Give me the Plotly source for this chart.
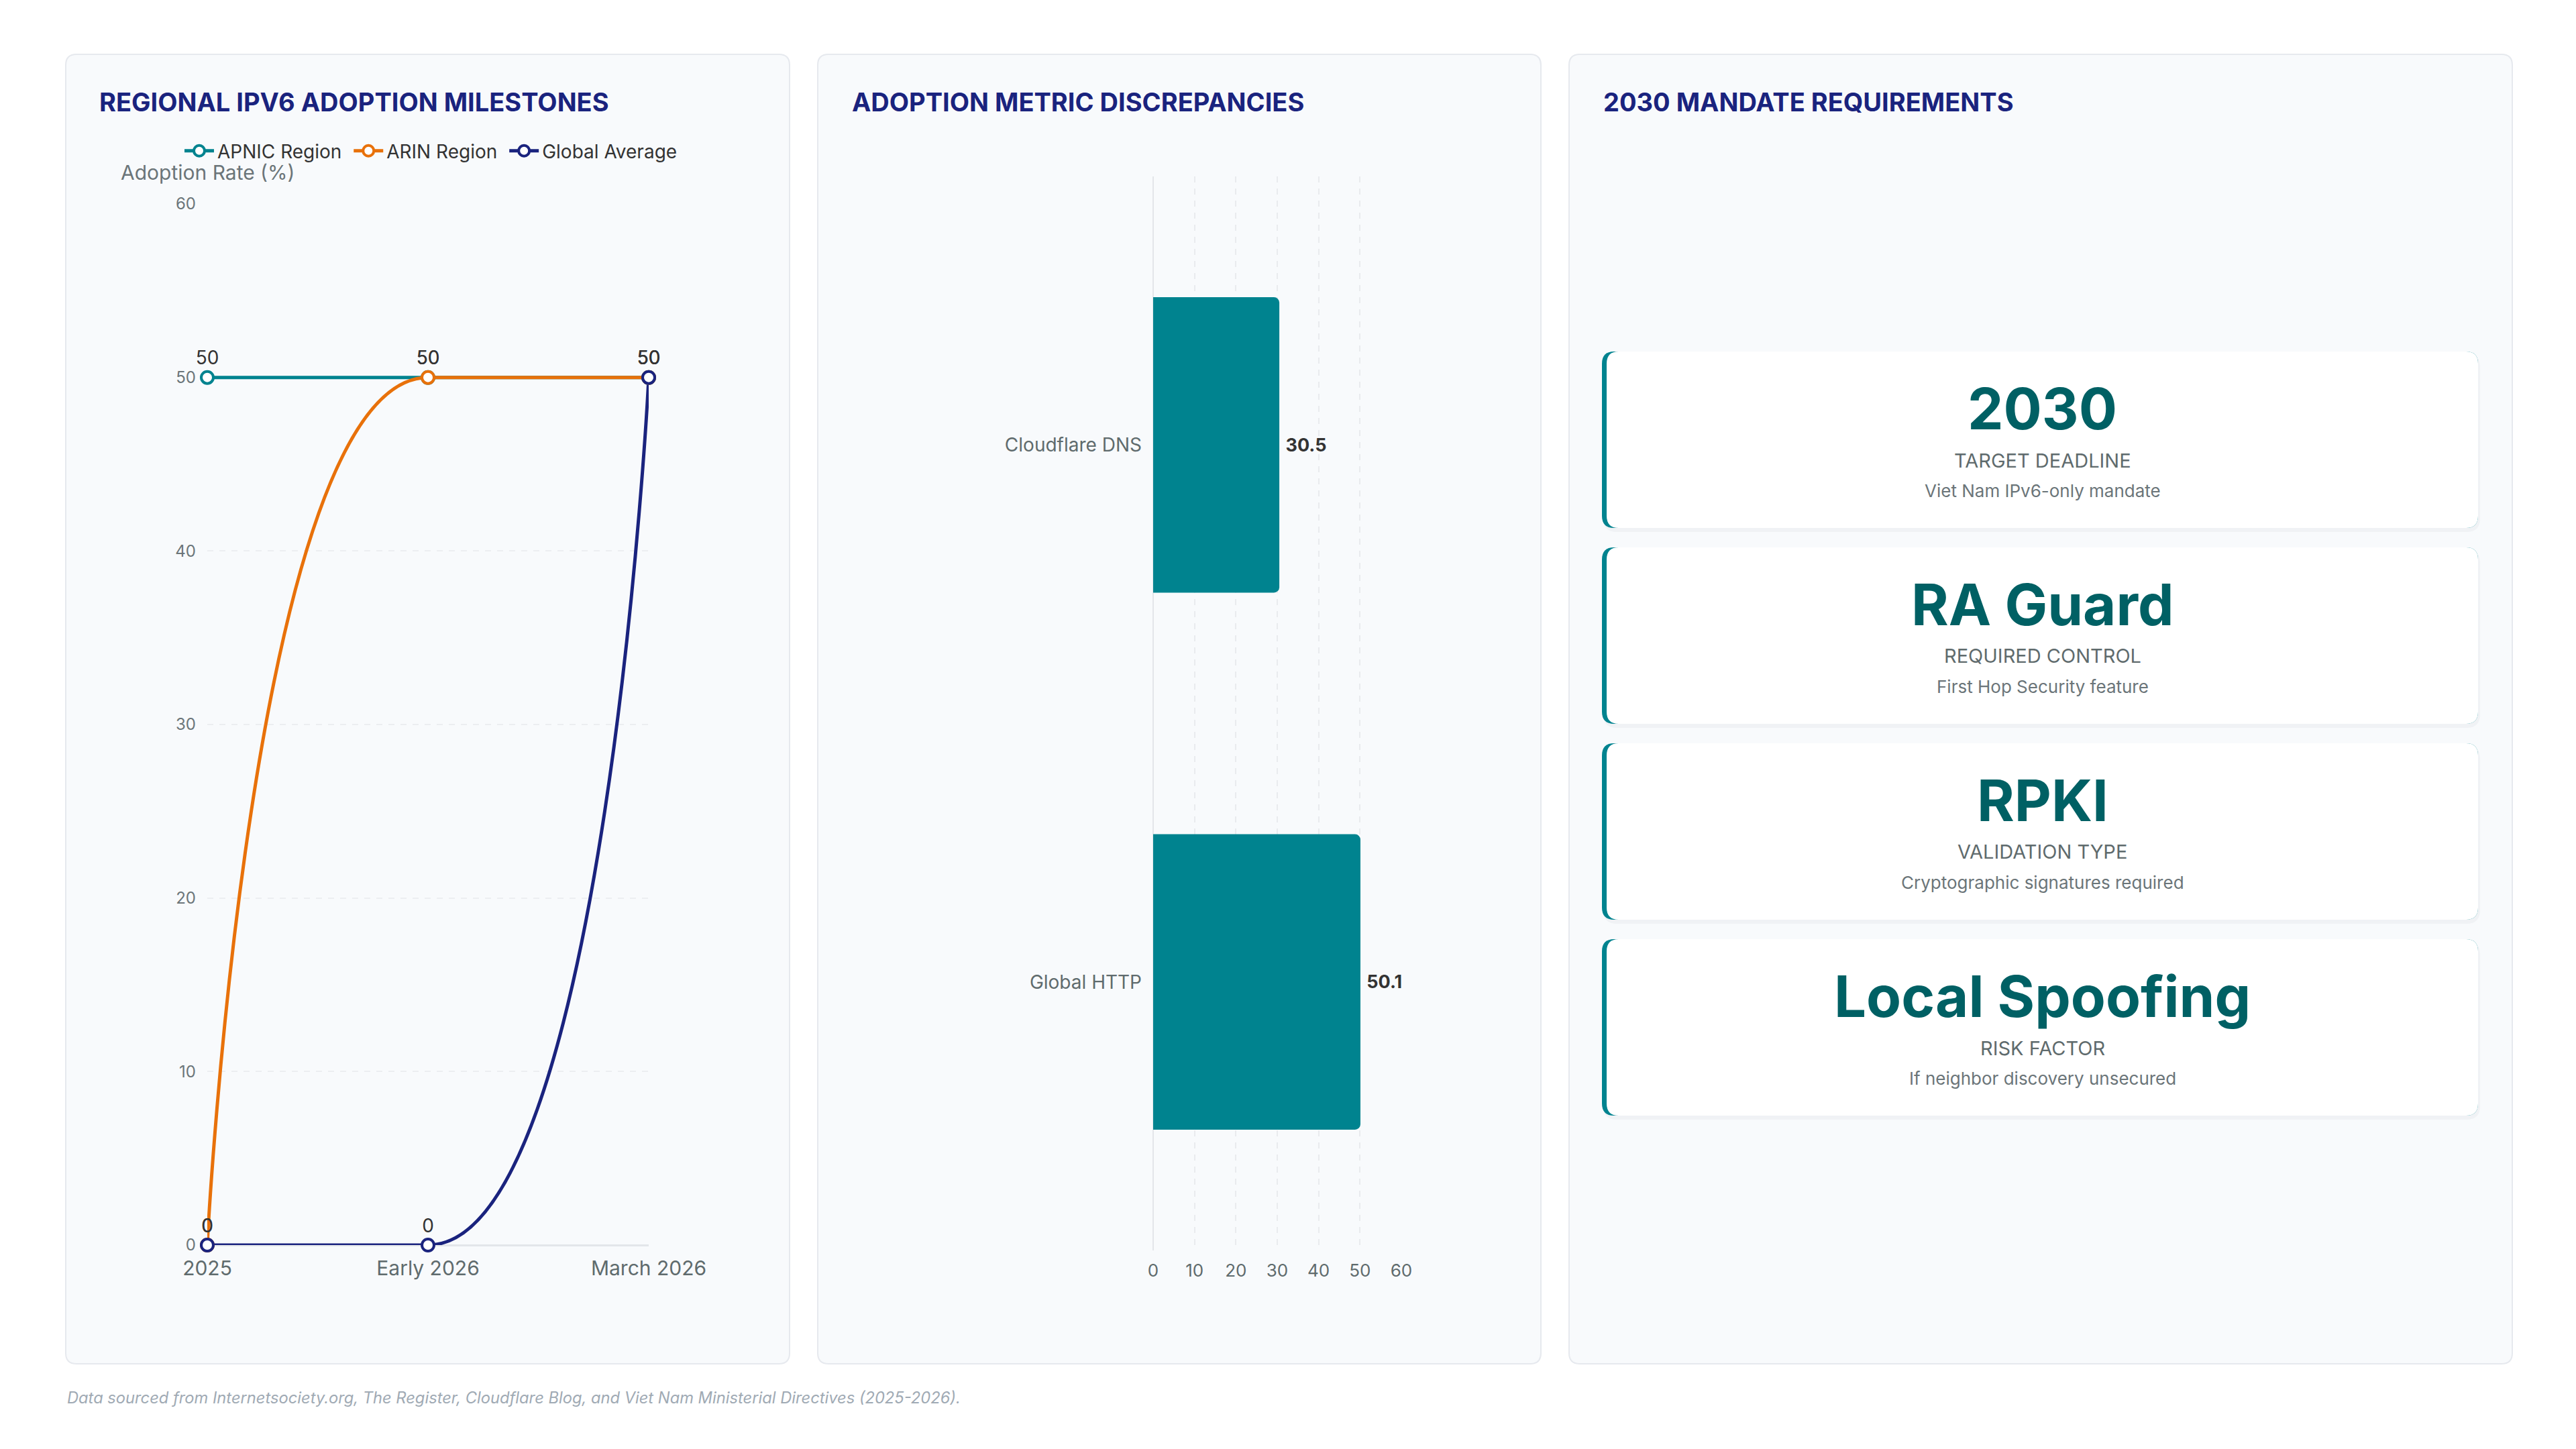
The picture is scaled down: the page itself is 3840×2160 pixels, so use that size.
import plotly.graph_objects as go

# ---------------- data ----------------
periods = ["2025", "Early 2026", "March 2026"]
apnic = [50, 50, 50]
arin = [0, 50, 50]
global_avg = [0, 0, 50]
series_names = ["APNIC Region", "ARIN Region", "Global Average"]
series_colors = ["#00838f", "#e8710a", "#1a237e"]

metrics = ["Cloudflare DNS", "Global HTTP"]
metric_values = [30.5, 50.1]

card_values = ["2030", "RA Guard", "RPKI", "Local Spoofing"]
card_labels = ["TARGET DEADLINE", "REQUIRED CONTROL", "VALIDATION TYPE", "RISK FACTOR"]
card_notes = ["Viet Nam IPv6-only mandate", "First Hop Security feature",
              "Cryptographic signatures required", "If neighbor discovery unsecured"]

titles = ["REGIONAL IPV6 ADOPTION MILESTONES", "ADOPTION METRIC DISCREPANCIES",
          "2030 MANDATE REQUIREMENTS"]
footer = ("Data sourced from Internetsociety.org, The Register, Cloudflare Blog, "
          "and Viet Nam Ministerial Directives (2025-2026).")

# ---------------- layout constants (pixels) ----------------
W, H = 3840, 2160
FONT = "Inter, Roboto, sans-serif"


def px(x):
    return x / W


def py(y):
    return 1 - y / H


L_X0, L_X1 = 309, 967      # left plot area
L_Y0, L_Y1 = 304, 1856     # top (60) / bottom (0)
L_YMAX = 60
M_X0, M_X1 = 1719, 2089
M_Y0, M_Y1 = 263, 1864

panels = [(98, 1177), (1219, 2297), (2339, 3745)]
PANEL_TOP, PANEL_BOT = 81, 2033
title_x = [146, 1268, 2388]


def rrect(x0, y0, x1, y1, r):
    pts = [("M", [(x0 + r, y0)]), ("L", [(x1 - r, y0)]), ("Q", [(x1, y0), (x1, y0 + r)]),
           ("L", [(x1, y1 - r)]), ("Q", [(x1, y1), (x1 - r, y1)]), ("L", [(x0 + r, y1)]),
           ("Q", [(x0, y1), (x0, y1 - r)]), ("L", [(x0, y0 + r)]), ("Q", [(x0, y0), (x0 + r, y0)])]
    s = ""
    for cmd, ps in pts:
        s += cmd + " " + " ".join(f"{px(a):.6f},{py(b):.6f}" for a, b in ps) + " "
    return s + "Z"


# ECharts-style smooth line (smooth=0.5), computed in pixel space
def smooth_path(xs, ys, smooth=0.5):
    sx = (L_X1 - L_X0) / (len(xs) - 1)
    sy = (L_Y1 - L_Y0) / L_YMAX
    P = [(x * sx, -y * sy) for x, y in zip(xs, ys)]

    def to_data(p):
        return (p[0] / sx, -p[1] / sy)

    n = len(P)
    cp0 = P[0]
    segs = []
    for i in range(1, n):
        x, y = P[i]
        prevX, prevY = P[i - 1]
        if i == n - 1:
            cp1 = (x, y)
            nxt = None
        else:
            nextX, nextY = P[i + 1]
            vx, vy = nextX - prevX, nextY - prevY
            lp = ((x - prevX) ** 2 + (y - prevY) ** 2) ** 0.5
            ln = ((nextX - x) ** 2 + (nextY - y) ** 2) ** 0.5
            r = ln / (ln + lp)
            ncx = x + vx * smooth * r
            ncy = y + vy * smooth * r
            ncx = max(min(ncx, max(nextX, x)), min(nextX, x))
            ncy = max(min(ncy, max(nextY, y)), min(nextY, y))
            vx, vy = ncx - x, ncy - y
            c1x = x - vx * lp / ln
            c1y = y - vy * lp / ln
            c1x = max(min(c1x, max(prevX, x)), min(prevX, x))
            c1y = max(min(c1y, max(prevY, y)), min(prevY, y))
            vx, vy = x - c1x, y - c1y
            ncx = x + vx * ln / lp
            ncy = y + vy * ln / lp
            cp1 = (c1x, c1y)
            nxt = (ncx, ncy)
        segs.append((cp0, cp1, (x, y)))
        cp0 = nxt
    d0 = to_data(P[0])
    s = f"M {d0[0]:.6f},{d0[1]:.6f}"
    for a, b, c in segs:
        a, b, c = to_data(a), to_data(b), to_data(c)
        s += f" C {a[0]:.6f},{a[1]:.6f} {b[0]:.6f},{b[1]:.6f} {c[0]:.6f},{c[1]:.6f}"
    return s


fig = go.Figure()
shapes = []
annotations = []

# panels
for x0, x1 in panels:
    shapes.append(dict(type="path", xref="paper", yref="paper", layer="below",
                       path=rrect(x0, PANEL_TOP, x1, PANEL_BOT, 16),
                       fillcolor="#f8fafc", line=dict(color="#e6e9ee", width=2)))

# ---------------- left line chart ----------------
idx = list(range(len(periods)))
all_series = [apnic, arin, global_avg]
for name, vals, col in zip(series_names, all_series, series_colors):
    shapes.append(dict(type="path", xref="x", yref="y", layer="between",
                       path=smooth_path(idx, vals),
                       line=dict(color=col, width=5)))
for name, vals, col in zip(series_names, all_series, series_colors):
    fig.add_trace(go.Scatter(
        x=idx, y=vals, mode="markers+text", name=name, showlegend=False,
        text=[str(v) for v in vals], textposition="top center",
        textfont=dict(size=28, color="#333333", family=FONT),
        marker=dict(symbol="circle", size=18, color="white", line=dict(color=col, width=4)),
        cliponaxis=False, xaxis="x", yaxis="y"))
for name, col in zip(series_names, series_colors):
    fig.add_trace(go.Scatter(
        x=[None], y=[None], mode="lines+markers", name=name + "\u00a0", showlegend=True,
        line=dict(color=col, width=5),
        marker=dict(symbol="circle", size=17, color="white", line=dict(color=col, width=4)),
        xaxis="x", yaxis="y"))

# ---------------- middle bar chart ----------------
fig.add_trace(go.Bar(
    x=metric_values, y=metrics, orientation="h", showlegend=False,
    marker=dict(color="#00838f", cornerradius=8, line=dict(width=0)),
    text=[f"\u00a0{v}" for v in metric_values], textposition="outside",
    textfont=dict(size=27, color="#333333", family=FONT, weight="bold"),
    cliponaxis=False, width=0.55, xaxis="x2", yaxis="y2"))

# ---------------- right cards ----------------
CARD_X0, CARD_X1 = 2388, 3694
CARD_TOP, CARD_H, CARD_GAP = 524, 263, 29
cx = (CARD_X0 + 7 + CARD_X1) / 2
for i, (v, lab, note) in enumerate(zip(card_values, card_labels, card_notes)):
    t = CARD_TOP + i * (CARD_H + CARD_GAP)
    b = t + CARD_H
    shapes.append(dict(type="path", xref="paper", yref="paper", layer="below",
                       path=rrect(CARD_X0 + 2, t + 3, CARD_X1 + 3, b + 6, 20),
                       fillcolor="rgba(30,40,60,0.035)", line=dict(width=0)))
    shapes.append(dict(type="path", xref="paper", yref="paper", layer="below",
                       path=rrect(CARD_X0, t, CARD_X1, b, 18),
                       fillcolor="#00838f", line=dict(width=0)))
    shapes.append(dict(type="path", xref="paper", yref="paper", layer="below",
                       path=rrect(CARD_X0 + 7, t, CARD_X1, b, 18),
                       fillcolor="#ffffff", line=dict(width=0)))
    annotations.append(dict(text=v, x=px(cx), y=py(t + 85), xref="paper", yref="paper",
                            xanchor="center", yanchor="middle", showarrow=False,
                            font=dict(size=85, color="#006064", family=FONT, weight="bold")))
    annotations.append(dict(text=lab, x=px(cx), y=py(t + 162), xref="paper", yref="paper",
                            xanchor="center", yanchor="middle", showarrow=False,
                            font=dict(size=29, color="#5f6b6d", family=FONT)))
    annotations.append(dict(text=note, x=px(cx), y=py(t + 207), xref="paper", yref="paper",
                            xanchor="center", yanchor="middle", showarrow=False,
                            font=dict(size=26, color="#6b7579", family=FONT)))

# titles
for tx, tt in zip(title_x, titles):
    annotations.append(dict(text=tt, x=px(tx), y=py(152), xref="paper", yref="paper",
                            xanchor="left", yanchor="middle", showarrow=False,
                            font=dict(size=38, color="#1a237e", family=FONT, weight="bold")))

# y-axis name
annotations.append(dict(text="Adoption Rate (%)", x=px(L_X0), y=py(257), xref="paper", yref="paper",
                        xanchor="center", yanchor="middle", showarrow=False,
                        font=dict(size=30, color="#6b7579", family=FONT)))

# footer
annotations.append(dict(text=f"<i>{footer}</i>", x=px(98), y=py(2083), xref="paper", yref="paper",
                        xanchor="left", yanchor="middle", showarrow=False,
                        font=dict(size=23.7, color="#a0aab4", family=FONT)))

fig.update_layout(
    width=W, height=H, autosize=False,
    margin=dict(l=0, r=0, t=0, b=0, pad=0, autoexpand=False),
    paper_bgcolor="#ffffff", plot_bgcolor="rgba(0,0,0,0)",
    font=dict(family=FONT, color="#333333"),
    showlegend=True,
    legend=dict(orientation="h", x=px(646), xanchor="center", y=py(225), yanchor="middle",
                xref="container", yref="container",
                font=dict(size=28, color="#333333", family=FONT), bgcolor="rgba(0,0,0,0)",
                itemwidth=44, tracegroupgap=0),
    xaxis=dict(domain=[px(L_X0), px(L_X1)], range=[0, len(periods) - 1], automargin=False,
               tickvals=idx, ticktext=periods, showgrid=False, zeroline=False, showline=False,
               ticks="", ticklabelstandoff=14,
               tickfont=dict(size=30, color="#5f6b6d", family=FONT), fixedrange=True),
    yaxis=dict(domain=[py(L_Y1), py(L_Y0)], range=[0, L_YMAX], dtick=10, automargin=False,
               showgrid=True, gridcolor="#eceef1", gridwidth=2, griddash="dash",
               zeroline=True, zerolinecolor="#e3e6ea", zerolinewidth=3, showline=False,
               ticks="", ticklabelstandoff=16,
               tickfont=dict(size=24, color="#6b7579", family=FONT), fixedrange=True),
    xaxis2=dict(domain=[px(M_X0), px(M_X1)], range=[0, 60], dtick=10, anchor="y2", automargin=False,
                showgrid=True, gridcolor="#e9ebee", gridwidth=2, griddash="dash",
                zeroline=True, zerolinecolor="#e3e6ea", zerolinewidth=2, showline=False,
                ticks="", ticklabelstandoff=12,
                tickfont=dict(size=26, color="#5f6b6d", family=FONT), fixedrange=True),
    yaxis2=dict(domain=[py(M_Y1), py(M_Y0)], anchor="x2", type="category", automargin=False,
                categoryorder="array", categoryarray=metrics, autorange="reversed",
                showgrid=False, zeroline=False, showline=False, ticks="", ticklabelstandoff=16,
                tickfont=dict(size=28, color="#5f6b6d", family=FONT), fixedrange=True),
    bargap=0.45,
    shapes=shapes,
    annotations=annotations,
)

fig.write_html("out.html")
